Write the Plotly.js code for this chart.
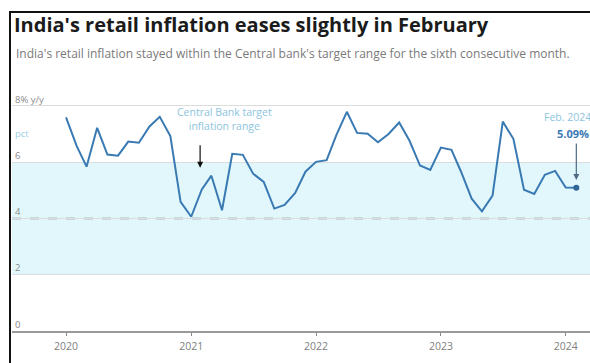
<!DOCTYPE html>
<html>
<head>
<meta charset="utf-8">
<script src="https://cdn.plot.ly/plotly-3.0.1.min.js"></script>
<style>
  html, body { margin: 0; padding: 0; background: #fff; }
  #chart { width: 590px; height: 363px; position: relative; }
  #frame { position: absolute; left: 9px; top: 11px; width: 600px; height: 400px;
           border-left: 2px solid #111; border-top: 2px solid #111; pointer-events: none; }
</style>
</head>
<body>
<div id="chart"></div>
<div id="frame"></div>
<script>
// Months (first of month), Jan 2020 – Feb 2024
const months = [
  '2020-01-01','2020-02-01','2020-03-01','2020-04-01','2020-05-01','2020-06-01',
  '2020-07-01','2020-08-01','2020-09-01','2020-10-01','2020-11-01','2020-12-01',
  '2021-01-01','2021-02-01','2021-03-01','2021-04-01','2021-05-01','2021-06-01',
  '2021-07-01','2021-08-01','2021-09-01','2021-10-01','2021-11-01','2021-12-01',
  '2022-01-01','2022-02-01','2022-03-01','2022-04-01','2022-05-01','2022-06-01',
  '2022-07-01','2022-08-01','2022-09-01','2022-10-01','2022-11-01','2022-12-01',
  '2023-01-01','2023-02-01','2023-03-01','2023-04-01','2023-05-01','2023-06-01',
  '2023-07-01','2023-08-01','2023-09-01','2023-10-01','2023-11-01','2023-12-01',
  '2024-01-01','2024-02-01'
];
// CPI inflation, % y/y
const inflation = [
  7.59, 6.58, 5.84, 7.22, 6.27, 6.23, 6.73, 6.69, 7.27, 7.61, 6.93, 4.59,
  4.06, 5.03, 5.52, 4.29, 6.30, 6.26, 5.59, 5.30, 4.35, 4.48, 4.91, 5.66,
  6.01, 6.07, 6.95, 7.79, 7.04, 7.01, 6.71, 7.00, 7.41, 6.77, 5.88, 5.72,
  6.52, 6.44, 5.66, 4.70, 4.25, 4.81, 7.44, 6.83, 5.02, 4.87, 5.55, 5.69,
  5.10, 5.09
];
// Target band and midpoint
const targetLow = 2, targetHigh = 6, targetMid = 4;
// Axis ticks
const xTickVals = ['2020-01-01','2021-01-01','2022-01-01','2023-01-01','2024-01-01'];
const xTickText = ['2020','2021','2022','2023','2024'];
const yTickVals = [0, 2, 4, 6, 8];
const yTickText = ['0', '2', '4', '6', '8% y/y'];
// Latest point
const lastDate = months[months.length - 1];
const lastValue = inflation[inflation.length - 1];

const lineColor = '#3a7ab3';
const font = 'Open Sans, sans-serif';

// plot area geometry (pixels) for placing margin texts
const M = { l: 12, r: 0, t: 89, b: 32 };
const plotW = 590 - M.l - M.r, plotH = 363 - M.t - M.b;
const px = (x) => (x - M.l) / plotW;
const py = (y) => (363 - M.b - y) / plotH;

const traces = [
  {
    x: months, y: inflation, type: 'scatter', mode: 'lines',
    line: { color: lineColor, width: 2 }, hoverinfo: 'skip'
  },
  {
    x: [lastDate], y: [lastValue], type: 'scatter', mode: 'markers',
    marker: { color: '#2f6796', size: 6 }, hoverinfo: 'skip'
  }
];

const layout = {
  width: 590, height: 363,
  margin: M,
  paper_bgcolor: '#fff', plot_bgcolor: '#fff',
  showlegend: false,
  font: { family: font, color: '#777' },
  title: {
    text: "India's retail inflation eases slightly in February",
    font: { family: font, size: 20, color: '#1b1b1b', weight: 700 },
    xref: 'container', yref: 'container',
    x: 14 / 590, xanchor: 'left', y: 1 - 25 / 363, yanchor: 'middle'
  },
  xaxis: {
    type: 'date', range: ['2019-07-27', '2024-03-12'],
    tickvals: xTickVals, ticktext: xTickText,
    showgrid: false, zeroline: false,
    showline: true, linecolor: '#999', linewidth: 1.5,
    ticks: 'outside', ticklen: 3, tickcolor: '#888',
    ticklabelstandoff: 2,
    tickfont: { family: font, size: 10.5, color: '#808080' }
  },
  yaxis: {
    range: [0, 8.6], tickvals: yTickVals, ticktext: yTickText,
    ticklabelposition: 'inside top',
    showgrid: true, gridcolor: '#dcdcdc', gridwidth: 1,
    zeroline: false, showline: false, ticks: '',
    tickfont: { family: font, size: 9.5, color: '#8a8a8a' }
  },
  shapes: [
    { type: 'rect', xref: 'paper', yref: 'y', x0: 0, x1: 1, y0: targetLow, y1: targetHigh,
      fillcolor: '#e2f7fc', line: { width: 0 }, layer: 'below' },
    { type: 'line', xref: 'paper', yref: 'y', x0: 0, x1: 1, y0: targetMid, y1: targetMid,
      line: { color: '#6f7f85', width: 1.5, dash: 'dash' }, layer: 'below' }
  ],
  annotations: [
    { xref: 'paper', yref: 'paper', x: px(14), y: py(53), xanchor: 'left', yanchor: 'middle',
      text: "India's retail inflation stayed within the Central bank's target range for the sixth consecutive month.",
      showarrow: false, font: { family: font, size: 12, color: '#7a7a7a' } },
    { xref: 'paper', yref: 'paper', x: px(13), y: py(133), xanchor: 'left', yanchor: 'middle',
      text: 'pct', showarrow: false, font: { family: font, size: 9.5, color: '#9fd0e8' } },
    { xref: 'x', yref: 'y', x: '2021-04-07', y: 6.95, xanchor: 'center', yanchor: 'bottom',
      text: 'Central Bank target<br>inflation range', showarrow: false,
      font: { family: font, size: 10.5, color: '#8cc4e0' } },
    { xref: 'x', yref: 'y', x: '2021-01-27', y: 5.8, ax: 0, ay: -24, text: '',
      showarrow: true, arrowhead: 2, arrowsize: 1, arrowwidth: 1.2, arrowcolor: '#111' },
    { xref: 'paper', yref: 'paper', x: 1.003, y: py(124.5), xanchor: 'right', yanchor: 'bottom',
      borderpad: 0,
      text: 'Feb. 2024', showarrow: false, font: { family: font, size: 10.5, color: '#8cc4e0' } },
    { xref: 'paper', yref: 'paper', x: 1, y: py(124.5), xanchor: 'right', yanchor: 'top',
      borderpad: 0,
      text: '<b>' + lastValue.toFixed(2) + '%</b>', showarrow: false,
      font: { family: font, size: 11, color: '#3a7ab3' } },
    { xref: 'x', yref: 'y', x: lastDate, y: 5.37, ax: 0, ay: -38, text: '',
      showarrow: true, arrowhead: 2, arrowsize: 1, arrowwidth: 1.2, arrowcolor: '#4d6a80' }
  ]
};

Plotly.newPlot('chart', traces, layout, { displayModeBar: false, staticPlot: true });
</script>
</body>
</html>
